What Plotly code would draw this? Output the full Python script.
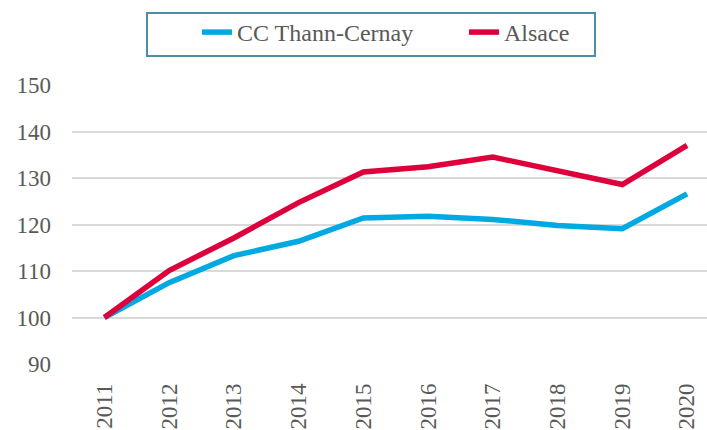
import plotly.graph_objects as go

years = [2011, 2012, 2013, 2014, 2015, 2016, 2017, 2018, 2019, 2020]
thann_cernay = [100, 107.5, 113.3, 116.4, 121.4, 121.8, 121.1, 119.8, 119.1, 126.6]
alsace = [100, 110.1, 117.1, 124.7, 131.3, 132.4, 134.5, 131.6, 128.6, 137.0]
y_ticks = [90, 100, 110, 120, 130, 140, 150]

font_family = "Liberation Serif"
text_color = "#595959"

W, H = 707, 430
ML, MT, MB = 72, 85, 66
PW, PH = W - ML, H - MT - MB


def px_x(px):
    return (px - ML) / PW


def px_y(py):
    return (H - MB - py) / PH


fig = go.Figure()
fig.add_trace(go.Scatter(x=years, y=thann_cernay, mode="lines", name="CC Thann-Cernay",
                         line=dict(color="#00A9E2", width=5.5)))
fig.add_trace(go.Scatter(x=years, y=alsace, mode="lines", name="Alsace",
                         line=dict(color="#DE003B", width=5.5)))

# legend frame
fig.add_shape(type="rect", xref="paper", yref="paper",
              x0=px_x(147), x1=px_x(595), y0=px_y(56), y1=px_y(13),
              line=dict(color="#4A8FA3", width=2), fillcolor="rgba(0,0,0,0)")

fig.update_layout(
    width=W, height=H,
    margin=dict(l=ML, r=0, t=MT, b=MB, autoexpand=False),
    paper_bgcolor="white", plot_bgcolor="white",
    font=dict(family=font_family, color=text_color, size=23),
    showlegend=True,
    legend=dict(
        orientation="h",
        x=px_x(197), xanchor="left",
        y=px_y(10), yanchor="top",
        borderwidth=0,
        font=dict(size=24, color=text_color, family=font_family),
        entrywidth=222, entrywidthmode="pixels",
        bgcolor="rgba(0,0,0,0)",
    ),
    xaxis=dict(
        range=[2010.5, 2011 + (707 - 104) / 64.78],
        tickmode="array", tickvals=years, ticktext=[str(y) for y in years],
        tickangle=-90, showgrid=False, zeroline=False, showline=False,
        ticks="", ticklabelstandoff=14, automargin=False,
        tickfont=dict(size=23, color=text_color, family=font_family),
    ),
    yaxis=dict(
        range=[90, 150], tickmode="array", tickvals=y_ticks,
        showgrid=True, gridcolor="#D9D9D9", gridwidth=1.5,
        zeroline=False, showline=False, ticks="", ticklabelstandoff=20,
        automargin=False,
        tickfont=dict(size=23, color=text_color, family=font_family),
    ),
)

fig.write_html("out.html", config={"displayModeBar": False},
               post_script="document.body.style.margin='0';document.body.style.overflow='hidden';")
